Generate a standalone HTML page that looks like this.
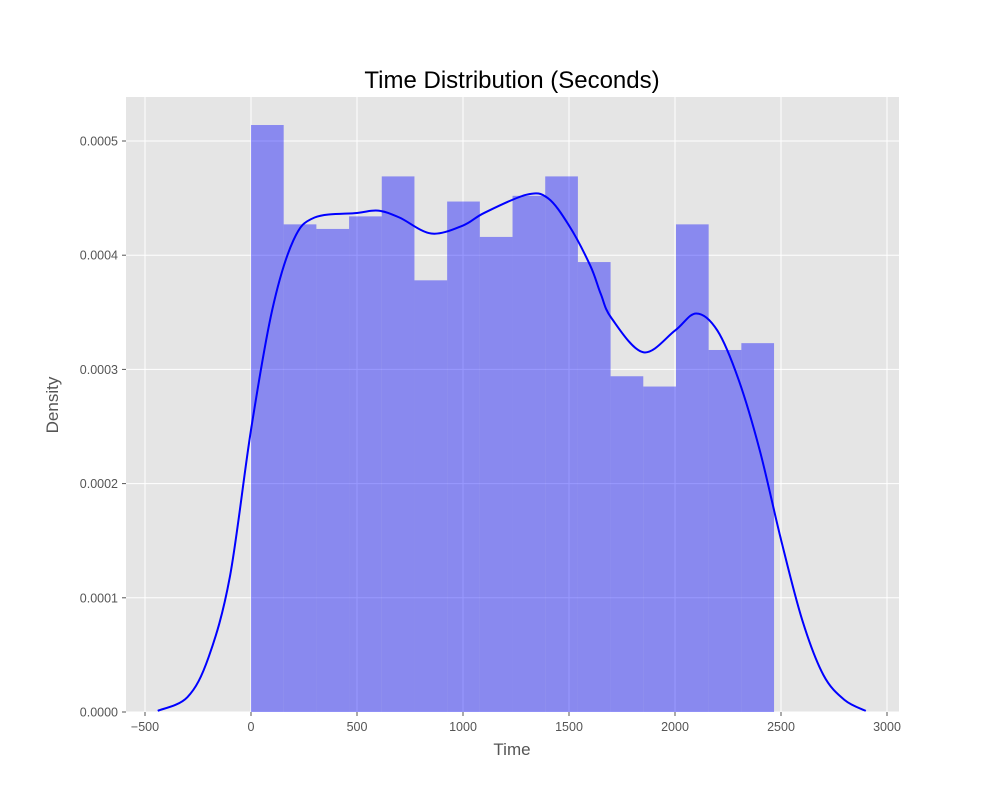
<!DOCTYPE html>
<html><head><meta charset="utf-8"><style>
body{margin:0;background:#fff;font-family:"Liberation Sans","DejaVu Sans",sans-serif;}
</style></head><body>
<svg id="chart" width="1000" height="800" xmlns="http://www.w3.org/2000/svg">
<rect width="1000" height="800" fill="#fff"/>
<rect x="126" y="97" width="773" height="615" fill="#e5e5e5"/>
<g id="grid"></g><g id="bars"></g><g id="kde"></g><g id="axes"></g>
<text x="512" y="88" text-anchor="middle" font-size="24" fill="#000">Time Distribution (Seconds)</text>
<text x="512" y="755" text-anchor="middle" font-size="17" fill="#555">Time</text>
<text x="58" y="405" text-anchor="middle" font-size="17" fill="#555" transform="rotate(-90 58 405)">Density</text>
</svg>
<script>
const binStart = 0;
const binWidth = 154.2;
const binDensities = [0.000514,0.000427,0.000423,0.000434,0.000469,0.000378,0.000447,0.000416,0.000452,0.000469,0.000394,0.000294,0.000285,0.000427,0.000317,0.000323];
const kdeX = [-440,-300,-200,-100,0,100,200,300,500,600,700,850,1000,1100,1300,1400,1500,1600,1650,1700,1850,2000,2100,2200,2300,2400,2500,2600,2700,2800,2900];
const kdeY = [0.000001,0.000013,0.000048,0.000118,0.000247,0.000352,0.000413,0.000433,0.000437,0.000439,0.000433,0.000419,0.000426,0.000437,0.000453,0.00045,0.000426,0.000391,0.000366,0.000345,0.000315,0.000334,0.000349,0.000334,0.000291,0.000229,0.000151,0.0000806,0.0000324,0.0000105,0.000001];
const xTicks = [-500,0,500,1000,1500,2000,2500,3000];
const yTicks = [0,0.0001,0.0002,0.0003,0.0004,0.0005];
const yTickLabels = ["0.0000","0.0001","0.0002","0.0003","0.0004","0.0005"];

const NS="http://www.w3.org/2000/svg";
const sx=v=>251+v*0.212;
const sy=v=>712-v/0.0005*571;
function mk(tag,attrs,parent){const e=document.createElementNS(NS,tag);for(const k in attrs)e.setAttribute(k,attrs[k]);document.getElementById(parent).appendChild(e);return e;}

xTicks.forEach(t=>{
  const g=mk('line',{x1:sx(t),x2:sx(t),y1:97,y2:712,stroke:'#fff','stroke-width':1},'grid');
  
  
  const tk=mk('line',{x1:sx(t),x2:sx(t),y1:712,y2:716,stroke:'#555'},'axes');
  
  
  const l=mk('text',{x:sx(t),y:731,'text-anchor':'middle','font-size':12.5,fill:'#555'},'axes');
  l.textContent=t<0?'\u2212'+Math.abs(t):String(t);
  
  
});
yTicks.forEach((t,i)=>{
  const g=mk('line',{x1:126,x2:899,y1:sy(t),y2:sy(t),stroke:'#fff','stroke-width':1},'grid');
  
  
  const tk=mk('line',{x1:122,x2:126,y1:sy(t),y2:sy(t),stroke:'#555'},'axes');
  
  
  const l=mk('text',{x:118,y:sy(t)+4.5,'text-anchor':'end','font-size':12.5,fill:'#555'},'axes');
  l.textContent=yTickLabels[i];
  
  
});
binDensities.forEach((d,i)=>{
  const x0=sx(binStart+i*binWidth), x1=sx(binStart+(i+1)*binWidth);
  const r=mk('rect',{x:x0,y:sy(d),width:x1-x0,height:712-sy(d),fill:'#0000ff','fill-opacity':0.4},'bars');
  
  
});
const pts=kdeX.map((x,i)=>[sx(x),sy(kdeY[i])]);
let d='M'+pts[0][0]+','+pts[0][1];
for(let i=0;i<pts.length-1;i++){
  const p0=pts[Math.max(0,i-1)],p1=pts[i],p2=pts[i+1],p3=pts[Math.min(pts.length-1,i+2)];
  const c1=[p1[0]+(p2[0]-p0[0])/6,p1[1]+(p2[1]-p0[1])/6];
  const c2=[p2[0]-(p3[0]-p1[0])/6,p2[1]-(p3[1]-p1[1])/6];
  d+=` C${c1[0]},${c1[1]} ${c2[0]},${c2[1]} ${p2[0]},${p2[1]}`;
}
const k=mk('path',{d:d,fill:'none',stroke:'#0000ff','stroke-width':2},'kde');


</script>
</body></html>
